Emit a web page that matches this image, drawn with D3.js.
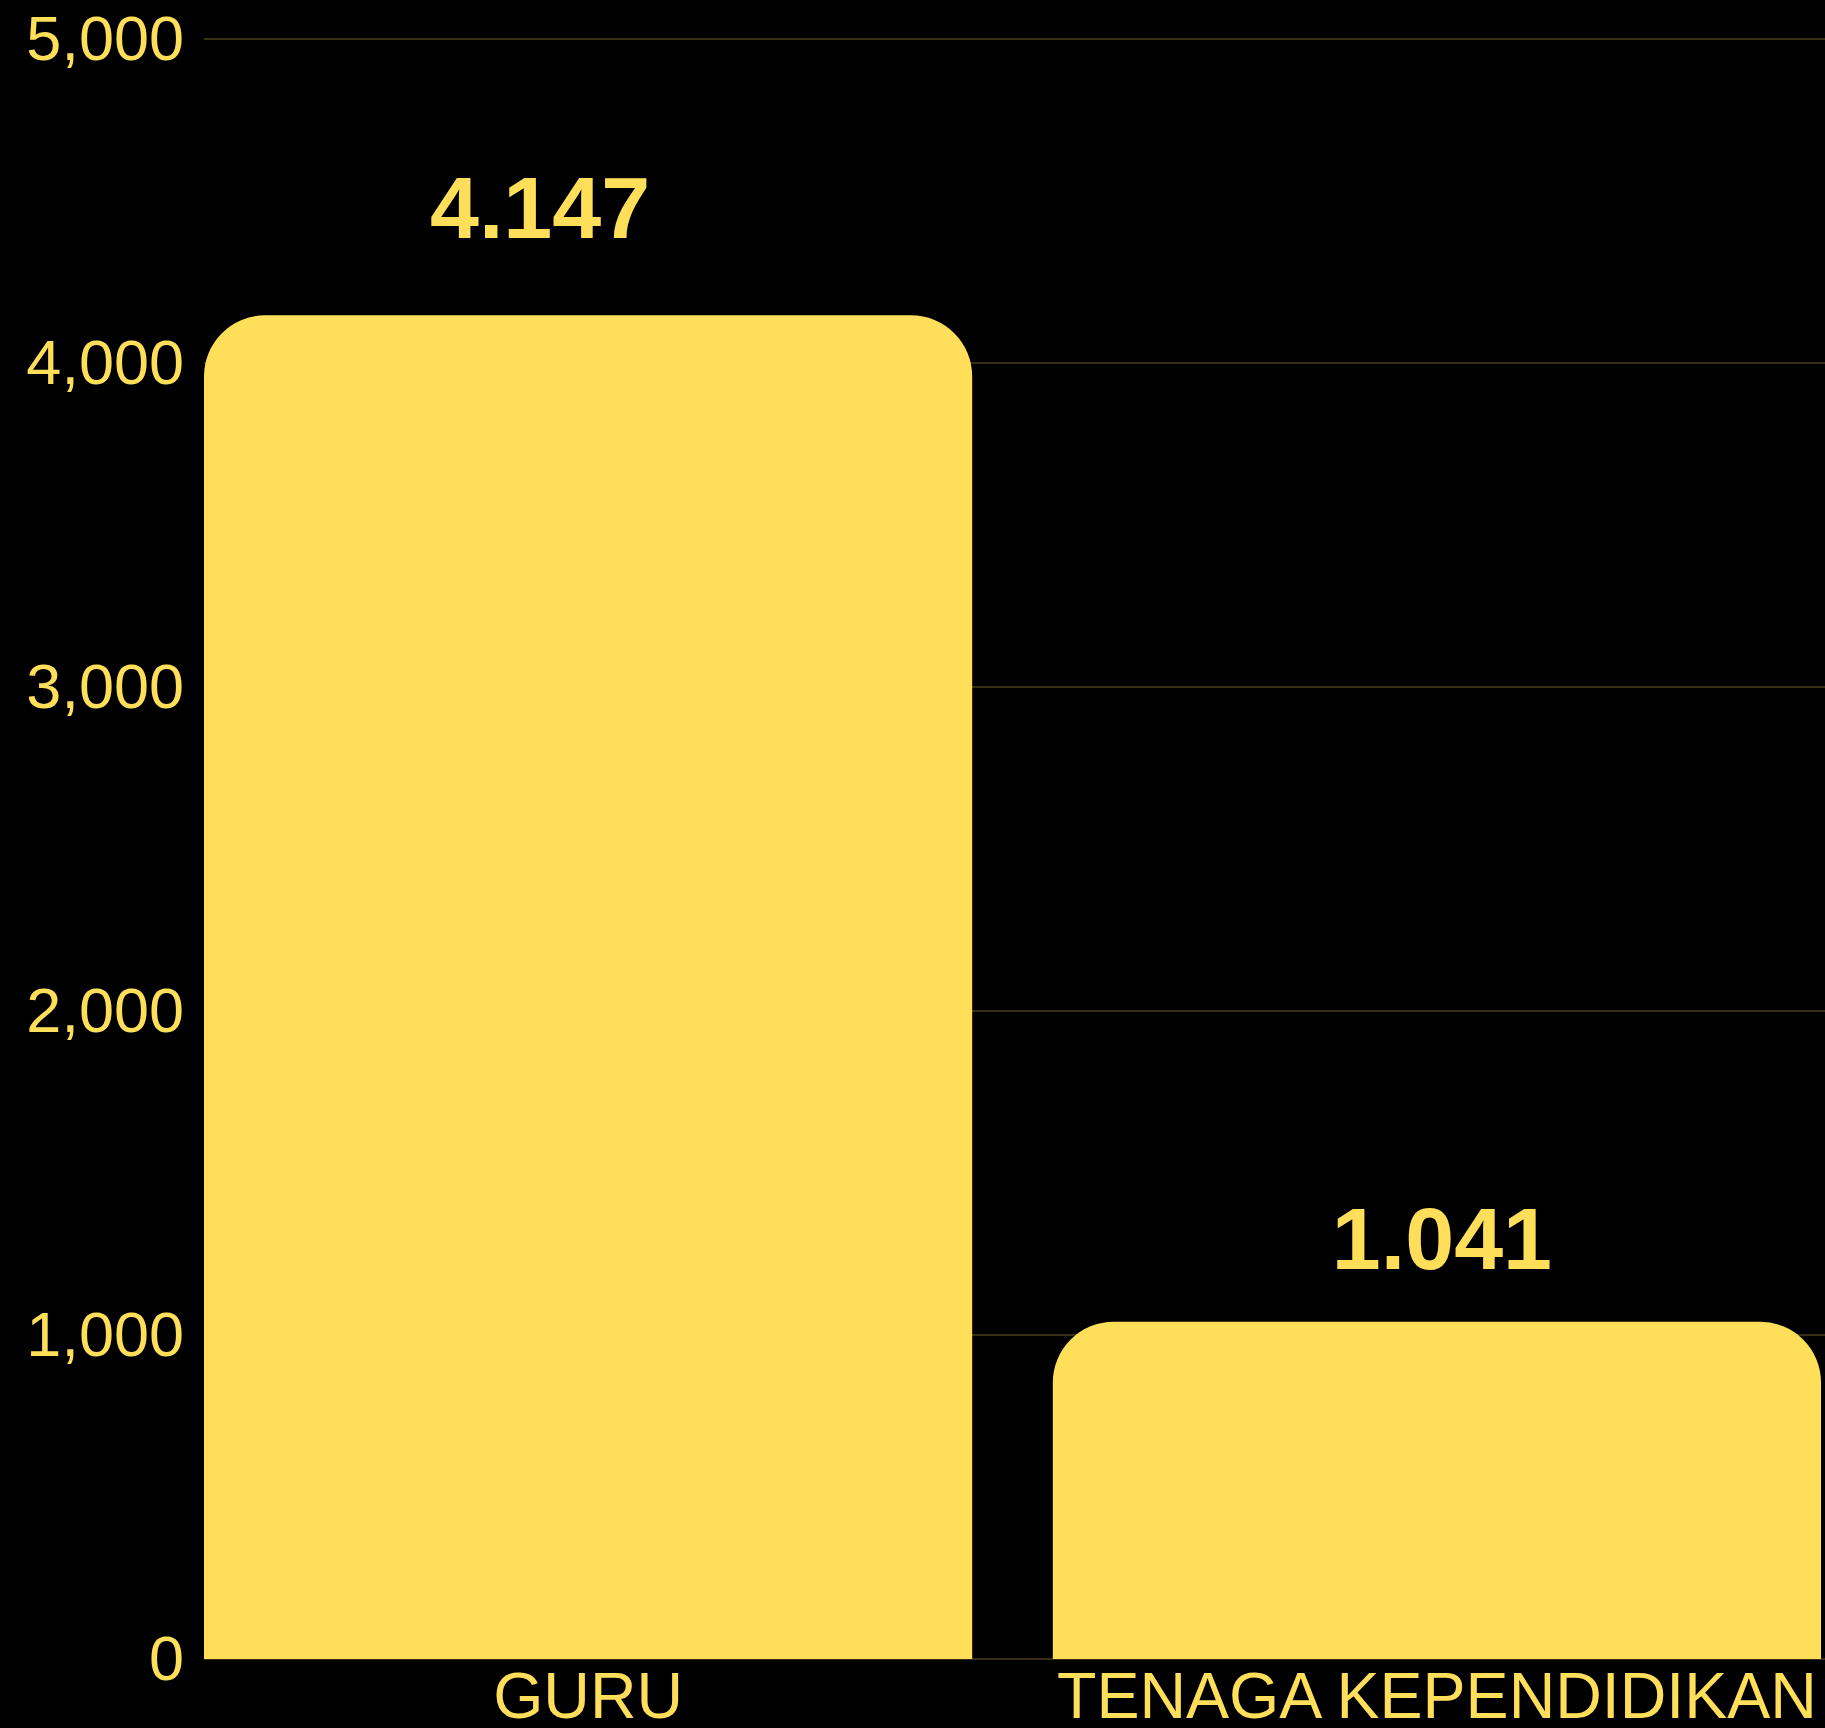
<!DOCTYPE html>
<html>
<head>
<meta charset="utf-8">
<script src="https://cdn.jsdelivr.net/npm/d3@7"></script>
<style>
  html, body { margin: 0; padding: 0; background: #000; }
  svg { display: block; }
</style>
</head>
<body>
<svg id="chart" width="1825" height="1728"></svg>
<script>
// data
var categories = ["GURU", "TENAGA KEPENDIDIKAN"];
var values = [4147, 1041];
var valueLabels = ["4.147", "1.041"];
var yTicks = [0, 1000, 2000, 3000, 4000, 5000];

var yellow = "#FFDE59";
var gridColor = "#4a3f1c";

var svg = d3.select("#chart");
var width = +svg.attr("width");
var height = +svg.attr("height");

var margin = {left: 204, right: 4, top: 39, bottom: 69};

var x = d3.scaleBand()
    .domain(categories)
    .range([margin.left, width - margin.right])
    .paddingInner(0.095)
    .paddingOuter(0);

var y = d3.scaleLinear()
    .domain([0, 5000])
    .range([height - margin.bottom, margin.top]);

// gridlines
svg.append("g")
    .attr("class", "grid")
    .selectAll("line")
    .data(yTicks)
    .enter().append("line")
    .attr("x1", margin.left)
    .attr("x2", width)
    .attr("y1", function(d) { return y(d); })
    .attr("y2", function(d) { return y(d); })
    .attr("stroke", gridColor)
    .attr("stroke-width", 1.5);

// bars with rounded top corners
function topRounded(x0, y0, w, h, r) {
    r = Math.min(r, w / 2, h);
    return "M" + x0 + "," + (y0 + h) +
        "V" + (y0 + r) +
        "A" + r + "," + r + " 0 0 1 " + (x0 + r) + "," + y0 +
        "H" + (x0 + w - r) +
        "A" + r + "," + r + " 0 0 1 " + (x0 + w) + "," + (y0 + r) +
        "V" + (y0 + h) + "Z";
}

var barData = categories.map(function(c, i) { return {cat: c, value: values[i], label: valueLabels[i]}; });

svg.append("g")
    .attr("class", "bars")
    .selectAll("path")
    .data(barData)
    .enter().append("path")
    .attr("fill", yellow)
    .attr("d", function(d) {
        return topRounded(x(d.cat), y(d.value), x.bandwidth(), y(0) - y(d.value), 61);
    });

// value labels (placed by hand in the original)
var labelShift = [{dx: -48, dy: -77}, {dx: 5, dy: -53}];

svg.append("g")
    .attr("class", "values")
    .selectAll("text")
    .data(barData)
    .enter().append("text")
    .attr("x", function(d, i) { return x(d.cat) + x.bandwidth() / 2 + labelShift[i].dx; })
    .attr("y", function(d, i) { return y(d.value) + labelShift[i].dy; })
    .attr("text-anchor", "middle")
    .attr("fill", yellow)
    .style("font-family", "'Liberation Sans', Arial, sans-serif")
    .style("font-weight", "bold")
    .style("font-size", "88px")
    .text(function(d) { return d.label; });

// y axis
var yAxis = svg.append("g")
    .attr("transform", "translate(" + margin.left + ",0)")
    .call(d3.axisLeft(y).tickValues(yTicks).tickFormat(d3.format(",")).tickSize(0).tickPadding(20));
yAxis.select(".domain").remove();
yAxis.selectAll("text")
    .attr("fill", yellow)
    .style("font-family", "'Liberation Sans', Arial, sans-serif")
    .style("font-size", "63px");

// x axis
var xAxis = svg.append("g")
    .attr("transform", "translate(0," + y(0) + ")")
    .call(d3.axisBottom(x).tickSize(0).tickPadding(13));
xAxis.select(".domain").remove();
xAxis.selectAll("text")
    .attr("fill", yellow)
    .style("font-family", "'Liberation Sans', Arial, sans-serif")
    .style("font-size", "64.5px");
</script>
</body>
</html>
